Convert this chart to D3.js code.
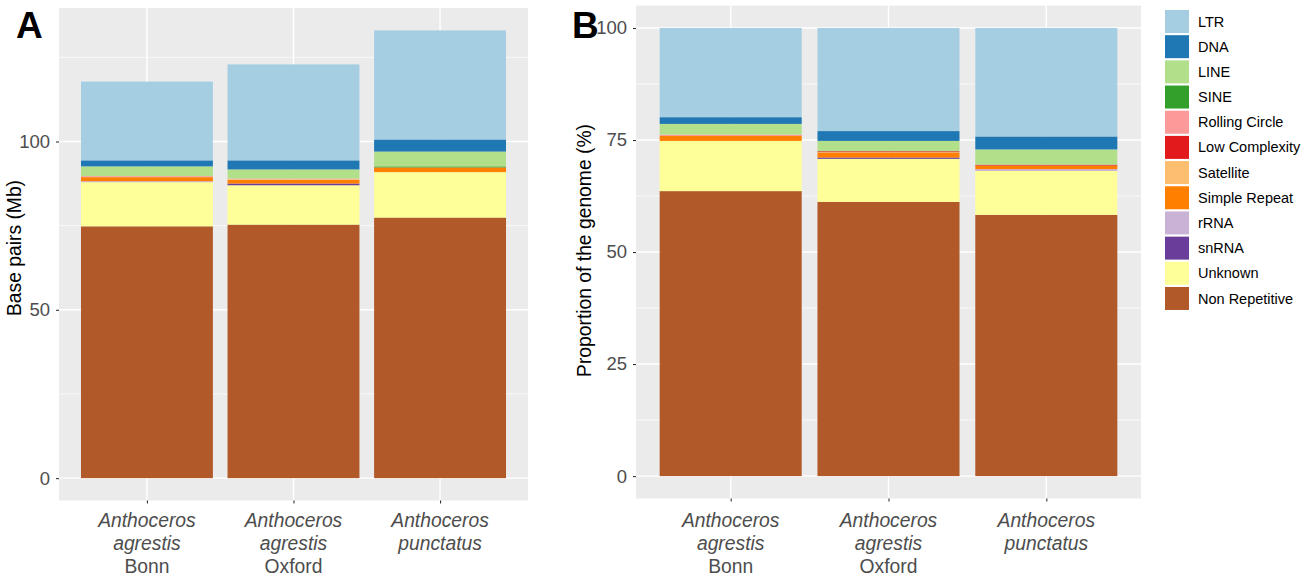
<!DOCTYPE html>
<meta charset="utf-8">
<body style="margin:0;background:#fff">
<script src="https://d3js.org/d3.v7.min.js"></script>
<script>

// repeat classes, legend order (top of the stack first)
var classes = ['LTR', 'DNA', 'LINE', 'SINE', 'Rolling Circle', 'Low Complexity',
  'Satellite', 'Simple Repeat', 'rRNA', 'snRNA', 'Unknown', 'Non Repetitive'];
var colours = ['#a6cee3', '#1f78b4', '#b2df8a', '#33a02c', '#fb9a99', '#e31a1c',
  '#fdbf6f', '#ff7f00', '#cab2d6', '#6a3d9a', '#ffff99', '#b15928'];

var samples = ['agrestis Bonn', 'agrestis Oxford', 'punctatus'];
var sampleLines = [
  [['Anthoceros', true], ['agrestis', true], ['Bonn', false]],
  [['Anthoceros', true], ['agrestis', true], ['Oxford', false]],
  [['Anthoceros', true], ['punctatus', true]]
];

// panel A: base pairs (Mb), values in the order of `classes`
var bonnMb    = [23.4, 1.8, 2.9, 0,   0.3, 0,   0,   1.2, 0.3, 0,   13.1, 74.8];
var oxfordMb  = [28.5, 2.7, 2.7, 0,   0.2, 0,   0.2, 1.1, 0,   0.5, 11.7, 75.3];
var punctMb   = [32.4, 3.6, 4.4, 0.3, 0,   0,   0,   1.4, 0,   0,   13.5, 77.4];

// panel B: proportion of the genome (%)
var bonnPct   = [19.9, 1.5, 2.4, 0,   0.3, 0,   0,   1.1, 0,   0,   11.2, 63.6];
var oxfordPct = [23.0, 2.2, 2.3, 0,   0,   0.2, 0.1, 1.1, 0,   0.3, 9.6,  61.2];
var punctPct  = [24.2, 2.9, 3.4, 0,   0,   0.2, 0,   0.8, 0.4, 0,   9.8,  58.3];

var yTicksA = [0, 50, 100];
var yTicksB = [0, 25, 50, 75, 100];

var W = 1312, H = 580;
var FONT = '"Liberation Sans", Arial, Helvetica, sans-serif';

var svg = d3.select('body').append('svg')
  .attr('width', W).attr('height', H)
  .style('font-family', FONT);

var colour = d3.scaleOrdinal().domain(classes).range(colours);

function rows(arrs) {
  return arrs.map(function(a, i) {
    var r = {sample: samples[i]};
    classes.forEach(function(c, j) { r[c] = a[j]; });
    return r;
  });
}

function panel(o) {
  var data = rows(o.values);
  var stack = d3.stack().keys(classes.slice().reverse())(data);
  var top = d3.max(data, function(d) { return d3.sum(classes, function(c) { return d[c]; }); });
  var pad = top * 0.05;

  var n = samples.length;
  var step = (o.x1 - o.x0) / (n - 1 + 1.2);
  var x = d3.scalePoint().domain(samples).range([o.x0 + 0.6 * step, o.x1 - 0.6 * step]);
  var bw = step * 0.9;
  var y = d3.scaleLinear().domain([-pad, top + pad]).range([o.y1, o.y0]);

  var g = svg.append('g');
  g.append('rect').attr('x', o.x0).attr('y', o.y0)
    .attr('width', o.x1 - o.x0).attr('height', o.y1 - o.y0)
    .attr('fill', '#ebebeb');

  // minor grid
  var minor = [];
  for (var i = 0; i < o.ticks.length - 1; i++) minor.push((o.ticks[i] + o.ticks[i + 1]) / 2);
  var st = o.ticks[1] - o.ticks[0];
  var last = o.ticks[o.ticks.length - 1] + st / 2;
  if (last < top + pad) minor.push(last);
  g.selectAll('.minor').data(minor).enter().append('line')
    .attr('x1', o.x0).attr('x2', o.x1)
    .attr('y1', function(d) { return y(d); }).attr('y2', function(d) { return y(d); })
    .attr('stroke', '#fff').attr('stroke-width', 0.7);
  g.selectAll('.major').data(o.ticks).enter().append('line')
    .attr('x1', o.x0).attr('x2', o.x1)
    .attr('y1', function(d) { return y(d); }).attr('y2', function(d) { return y(d); })
    .attr('stroke', '#fff').attr('stroke-width', 1.4);
  g.selectAll('.vgrid').data(samples).enter().append('line')
    .attr('x1', function(d) { return x(d); }).attr('x2', function(d) { return x(d); })
    .attr('y1', o.y0).attr('y2', o.y1)
    .attr('stroke', '#fff').attr('stroke-width', 1.4);

  // bars
  g.selectAll('.layer').data(stack).enter().append('g')
    .attr('fill', function(d) { return colour(d.key); })
    .selectAll('rect').data(function(d) { return d; }).enter().append('rect')
    .attr('x', function(d) { return x(d.data.sample) - bw / 2; })
    .attr('width', bw)
    .attr('y', function(d) { return y(d[1]); })
    .attr('height', function(d) { return Math.max(0, y(d[0]) - y(d[1])); });

  // y axis
  var ya = svg.append('g').attr('transform', 'translate(' + o.x0 + ',0)')
    .call(d3.axisLeft(y).tickValues(o.ticks).tickSize(3).tickPadding(6));
  ya.select('.domain').remove();
  ya.selectAll('line').attr('stroke', '#333').attr('stroke-width', 1.1);
  ya.selectAll('text').attr('fill', '#4d4d4d').style('font-size', '18.5px').style('font-family', FONT);

  // x axis
  var xa = svg.append('g').attr('transform', 'translate(0,' + o.y1 + ')')
    .call(d3.axisBottom(x).tickSize(3).tickFormat(''));
  xa.select('.domain').remove();
  xa.selectAll('line').attr('stroke', '#333').attr('stroke-width', 1.1);

  samples.forEach(function(s, i) {
    var t = svg.append('text').attr('text-anchor', 'middle')
      .attr('fill', '#4d4d4d').style('font-size', '19.3px');
    sampleLines[i].forEach(function(l, k) {
      t.append('tspan').attr('x', x(s)).attr('y', 527 + k * 23.2)
        .style('font-style', l[1] ? 'italic' : 'normal').text(l[0]);
    });
  });

  // axis title
  svg.append('text')
    .attr('transform', 'translate(' + o.titleX + ',' + o.titleY + ') rotate(-90)')
    .attr('text-anchor', 'middle').attr('fill', '#000')
    .style('font-size', '19.3px').text(o.title);

  // panel letter
  svg.append('text').attr('x', o.letterX).attr('y', 38)
    .style('font-size', '37px').style('font-weight', 'bold').text(o.letter);
}

panel({
  values: [bonnMb, oxfordMb, punctMb], ticks: yTicksA,
  x0: 59, x1: 528, y0: 8, y1: 500.5,
  title: 'Base pairs (Mb)', titleX: 21, titleY: 248, letter: 'A', letterX: 16
});
panel({
  values: [bonnPct, oxfordPct, punctPct], ticks: yTicksB,
  x0: 636, x1: 1141, y0: 5.6, y1: 498.5,
  title: 'Proportion of the genome (%)', titleX: 591, titleY: 250.5, letter: 'B', letterX: 572
});

// legend
var leg = svg.append('g').attr('transform', 'translate(1165,10)');
var item = leg.selectAll('g').data(classes).enter().append('g')
  .attr('transform', function(d, i) { return 'translate(0,' + i * 25.18 + ')'; });
item.append('rect').attr('width', 24).attr('height', 23)
  .attr('fill', function(d) { return colour(d); });
item.append('text').attr('x', 33).attr('y', 11.5).attr('dy', '0.35em')
  .style('font-size', '14.5px').attr('fill', '#000')
  .text(function(d) { return d; });

</script>
</body>
</html>
